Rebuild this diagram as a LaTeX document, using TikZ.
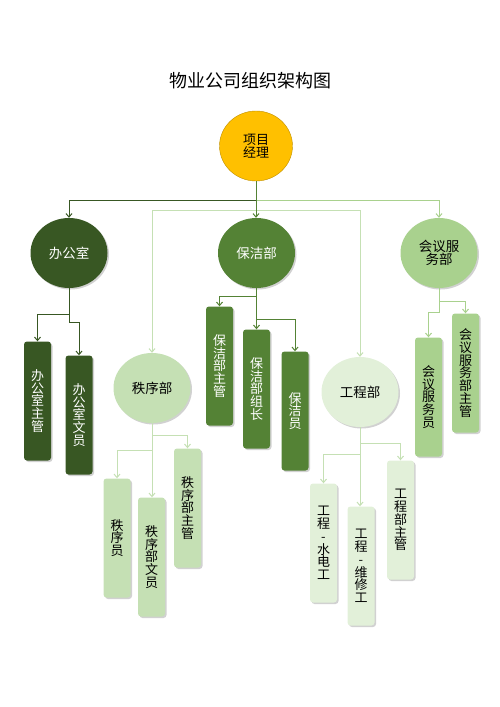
\documentclass[tikz,border=0pt]{standalone}
\usepackage{fontspec}
\setmainfont{Noto Sans CJK SC}
\usepackage{tikz}
\usepackage{xcolor}
\usetikzlibrary{shapes.geometric, positioning, arrows.meta, shadows}

\definecolor{rootfill}{HTML}{FFC000}
\definecolor{rootedge}{HTML}{C09000}
\definecolor{greenA}{HTML}{385723}
\definecolor{greenB}{HTML}{548235}
\definecolor{greenC}{HTML}{A9D18E}
\definecolor{greenD}{HTML}{C5E0B4}
\definecolor{greenE}{HTML}{E2F0D9}

\begin{document}
\begin{tikzpicture}[x=1pt, y=-1pt,
  softshadow/.style={drop shadow={shadow xshift=1.5pt, shadow yshift=-1.5pt, opacity=0.3, fill=black!60}},
  boss/.style={ellipse, draw=rootedge, fill=rootfill, minimum width=73pt, minimum height=70pt, inner sep=0pt, align=center, font=\fontsize{13}{13}\selectfont},
  dept/.style={ellipse, minimum width=77pt, minimum height=70pt, inner sep=0pt, align=center, font=\fontsize{13.5}{13}\selectfont, softshadow},
  post/.style={rectangle, rounded corners=3pt, minimum width=27pt, minimum height=119pt, inner sep=0pt, align=center, font=\fontsize{13}{12.8}\selectfont, softshadow},
  link/.style={line width=1pt, -{Straight Barb[length=3.5pt, width=6pt]}}]
\useasboundingbox (0,0) rectangle (500,707);

\node (title) at (250,81) {\fontsize{18}{20}\selectfont 物业公司组织架构图};
\node[boss] (root) at (256,146) {项目\\经理};

% departments
\node[dept, fill=greenA, text=white] (office) at (69,253) {办公室};
\node[dept, fill=greenB, text=white] (clean) at (256.5,253) {保洁部};
\node[dept, fill=greenC] (meeting) at (439,253) {会议服\\务部};
\node[dept, fill=greenD] (order) at (152,388) {秩序部};
\node[dept, fill=greenE] (eng) at (360,392) {工程部};

% posts
\node[post, fill=greenA, text=white] (om) at (37.5,401) {办\\公\\室\\主\\管};
\node[post, fill=greenA, text=white] (oc) at (79,415) {办\\公\\室\\文\\员};
\node[post, fill=greenB, text=white] (c1) at (219.5,366) {保\\洁\\部\\主\\管};
\node[post, fill=greenB, text=white] (c2) at (256.5,389) {保\\洁\\部\\组\\长};
\node[post, fill=greenB, text=white] (c3) at (295,411) {保\\洁\\员};
\node[post, fill=greenD] (os1) at (117,538) {秩\\序\\员};
\node[post, fill=greenD] (os2) at (151.5,557) {秩\\序\\部\\文\\员};
\node[post, fill=greenD] (os3) at (187.5,508) {秩\\序\\部\\主\\管};
\node[post, fill=greenE] (e1) at (323.5,543) {工\\程\\-\\水\\电\\工};
\node[post, fill=greenE] (e2) at (361,566) {工\\程\\-\\维\\修\\工};
\node[post, fill=greenE] (e3) at (400.5,520) {工\\程\\部\\主\\管};
\node[post, fill=greenC] (m1) at (428.5,397) {会\\议\\服\\务\\员};
\node[post, fill=greenC] (m2) at (465.5,373) {会\\议\\服\\务\\部\\主\\管};

% top level
\draw[link, greenA] (root.south) -- ++(0,19) -| (office.north);
\draw[link, greenC] ([yshift=-19pt]root.south) -| (meeting.north);
\draw[link, greenD] ([yshift=-29pt]root.south) -| (order.north);
\draw[link, greenD] ([yshift=-29pt]root.south) -| (eng.north);
\draw[link, greenB] (root.south) -- (root.south |- clean.north);
%
\draw[link, greenA] (office.south) -- ++(0,26) -| (om.north);
\draw[link, greenA] (office.south) -- ++(0,34) -| (oc.north);
\draw[link, greenB] (clean.south) -- ++(0,8) -| (c1.north);
\draw[link, greenB] (clean.south) -- ++(0,31) -| (c3.north);
\draw[link, greenB] (clean.south) -- (c2.north);
\draw[link, greenC] (meeting.south) -- ++(0,13) -| (m2.north);
\draw[link, greenC] (meeting.south) -- ++(0,24) -| (m1.north);
%
\draw[link, greenD] (order.south) -- ++(0,12) -| (os3.north);
\draw[link, greenD] (order.south) -- ++(0,27) -| (os1.north);
\draw[link, greenD] (order.south) -- (order.south |- os2.north);
\draw[link, greenD] (eng.south) -- ++(0,16) -| (e3.north);
\draw[link, greenD] (eng.south) -- ++(0,27) -| (e1.north);
\draw[link, greenD] (eng.south) -- (eng.south |- e2.north);
\end{tikzpicture}
\end{document}
